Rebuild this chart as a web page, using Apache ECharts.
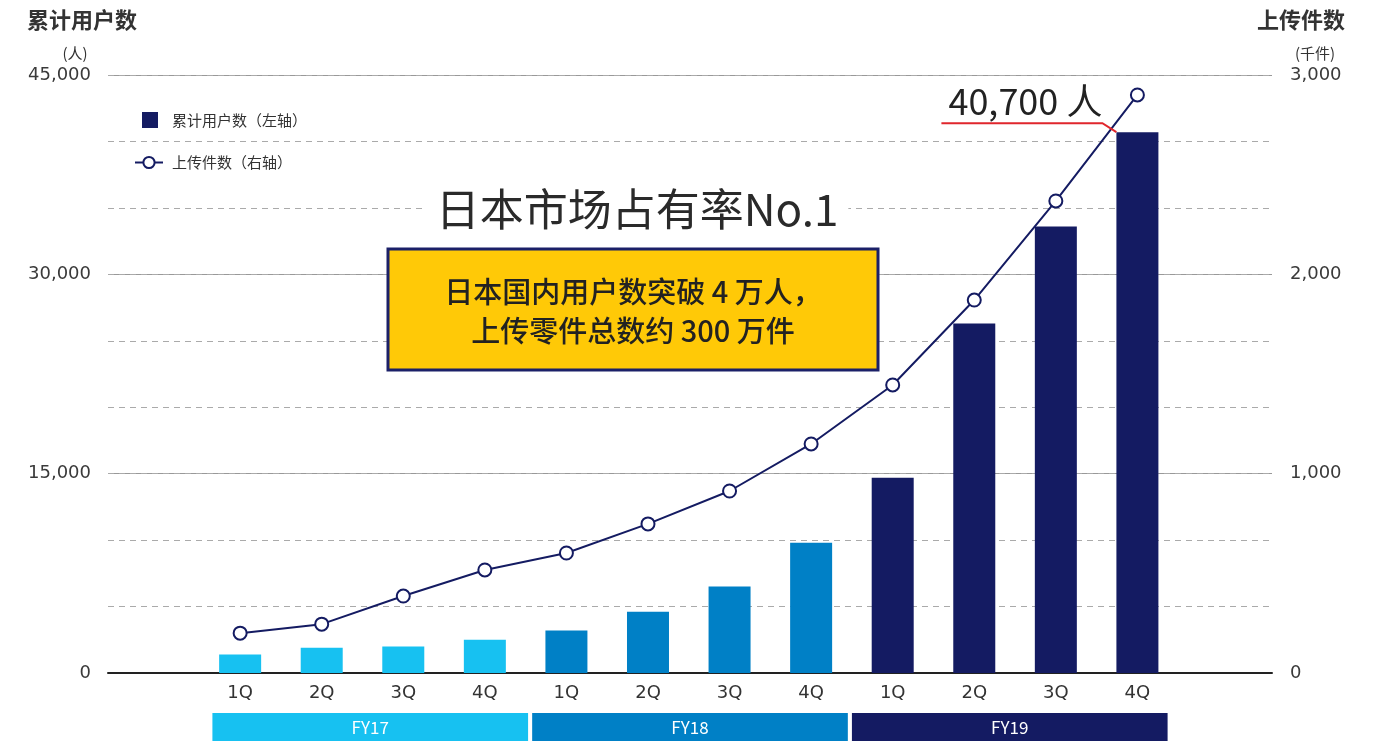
<!DOCTYPE html>
<html>
<head>
<meta charset="utf-8">
<script src="https://cdn.jsdelivr.net/npm/echarts@6/dist/echarts.min.js"></script>
<style>
  html, body { margin: 0; padding: 0; background: #fff; }
  #main { width: 1380px; height: 741px; }
</style>
</head>
<body>
<div id="main"></div>
<script>
// 季度 / 财年
const quarters = ['1Q', '2Q', '3Q', '4Q', '1Q', '2Q', '3Q', '4Q', '1Q', '2Q', '3Q', '4Q']
const fiscalYears = ['FY17', 'FY18', 'FY19']
// 累计用户数（人）
const users = [1400, 1900, 2000, 2500, 3200, 4600, 6500, 9800, 14700, 26300, 33600, 40700]
// 上传件数（千件）
const uploads = [200, 245, 386, 517, 602, 748, 913, 1149, 1445, 1871, 2368, 2900]

const fyColors = ['#17C1F1', '#0080C6', '#141B62']
const navy = '#141B62'
const font = '"Noto Sans CJK SC", "Noto Sans", sans-serif'
const numFont = '"DejaVu Sans", "Noto Sans CJK SC", sans-serif'

const chart = echarts.init(document.getElementById('main'))

const option = {
  animation: false,
  textStyle: { fontFamily: font },
  grid: { left: 108, right: 108, top: 75, bottom: 68 },
  legend: [
    {
      data: [{ name: '累计用户数（左轴）', icon: 'rect' }],
      left: 137,
      top: 107,
      itemWidth: 16,
      itemHeight: 16,
      textStyle: { fontSize: 15, color: '#333', padding: [0, 0, 0, 9] }
    },
    {
      data: ['上传件数（右轴）'],
      left: 129,
      top: 150,
      itemWidth: 28,
      itemHeight: 14,
      textStyle: { fontSize: 15, color: '#333', padding: [0, 0, 0, 4] }
    }
  ],
  xAxis: {
    type: 'value',
    min: -1.62,
    max: 12.65,
    axisLine: { lineStyle: { color: '#222', width: 2 } },
    axisTick: { show: false },
    splitLine: { show: false },
    axisLabel: {
      customValues: quarters.map((q, i) => i),
      formatter: v => quarters[v],
      color: '#333',
      fontFamily: numFont,
      fontSize: 18,
      margin: 11
    }
  },
  yAxis: [
    {
      type: 'value',
      min: 0,
      max: 45000,
      interval: 15000,
      position: 'left',
      axisLine: { show: false },
      axisTick: { show: false },
      axisLabel: {
        formatter: v => v.toLocaleString('en-US'),
        fontFamily: numFont,
        fontSize: 18,
        color: '#3a3a3a',
        margin: 17
      },
      splitLine: { lineStyle: { color: '#999', width: 1 } }
    },
    {
      type: 'value',
      min: 0,
      max: 3000,
      interval: 1000,
      position: 'right',
      axisLine: { show: false },
      axisTick: { show: false },
      axisLabel: {
        formatter: v => v.toLocaleString('en-US'),
        fontFamily: numFont,
        fontSize: 18,
        color: '#3a3a3a',
        margin: 18
      },
      splitLine: { show: false }
    },
    {
      // 虚线网格
      type: 'value',
      min: 0,
      max: 45000,
      interval: 5000,
      position: 'left',
      axisLine: { show: false },
      axisTick: { show: false },
      axisLabel: { show: false },
      splitLine: { lineStyle: { color: '#aaa', type: [6, 5], width: 1 } }
    }
  ],
  series: [
    {
      name: '累计用户数（左轴）',
      type: 'bar',
      yAxisIndex: 0,
      barWidth: 42,
      itemStyle: { color: navy },
      data: users.map((v, i) => ({
        value: [i, v],
        itemStyle: { color: fyColors[Math.floor(i / 4)] }
      })),
      z: 2
    },
    {
      name: '上传件数（右轴）',
      type: 'line',
      yAxisIndex: 1,
      symbol: 'circle',
      symbolSize: 13,
      showAllSymbol: true,
      lineStyle: { color: navy, width: 2 },
      itemStyle: { color: '#fff', borderColor: navy, borderWidth: 2 },
      data: uploads.map((v, i) => [i, v]),
      z: 5
    }
  ]
}

chart.setOption(option)

// 标注、财年色带
const graphic = []
const toPx = (x, y) => chart.convertToPixel({ xAxisIndex: 0, yAxisIndex: 0 }, [x, y])

const bandStart = -0.34
const bandUnit = 3.92
fiscalYears.forEach((fy, g) => {
  const a = toPx(bandStart + g * bandUnit, 0)[0]
  const b = toPx(bandStart + (g + 1) * bandUnit - 0.05, 0)[0]
  graphic.push({
    type: 'rect',
    shape: { x: a, y: 713, width: b - a, height: 30 },
    style: { fill: fyColors[g] },
    z: 10
  })
  graphic.push({
    type: 'text',
    x: (a + b) / 2,
    y: 728,
    style: { text: fy, fill: '#fff', fontSize: 17, fontFamily: font, align: 'center', verticalAlign: 'middle' },
    z: 11
  })
})

// 40,700 人
const lastIdx = users.length - 1
const lastTop = toPx(lastIdx, users[lastIdx])
const barLeft = lastTop[0] - 21
graphic.push({
  type: 'polyline',
  shape: { points: [[barLeft - 175, lastTop[1] - 9], [barLeft - 14, lastTop[1] - 9], [barLeft, lastTop[1]]] },
  style: { stroke: '#E0262C', lineWidth: 2, fill: null },
  z: 12
})
graphic.push({
  type: 'text',
  x: barLeft - 168,
  y: lastTop[1] - 31,
  style: { text: users[lastIdx].toLocaleString('en-US') + ' 人', fill: '#222', fontSize: 36, fontFamily: font, align: 'left', verticalAlign: 'middle' },
  z: 12
})

// 标题
graphic.push({
  type: 'text',
  x: 637,
  y: 209,
  style: {
    text: '日本市场占有率No.1',
    fill: '#2a2a2a',
    fontSize: 44,
    fontWeight: 400,
    fontFamily: font,
    align: 'center',
    verticalAlign: 'middle',
    backgroundColor: '#fff',
    padding: [0, 10]
  },
  z: 12
})
graphic.push({
  type: 'rect',
  shape: { x: 388, y: 249, width: 490, height: 121 },
  style: { fill: '#FFC907', stroke: '#1B2068', lineWidth: 3 },
  z: 12
})
graphic.push({
  type: 'text',
  x: 633,
  y: 311,
  style: {
    text: '日本国内用户数突破 4 万人，\n上传零件总数约 300 万件',
    fill: '#222',
    fontSize: 29,
    lineHeight: 39,
    fontWeight: 500,
    fontFamily: font,
    align: 'center',
    verticalAlign: 'middle'
  },
  z: 13
})

// 轴标题
graphic.push({
  type: 'text', x: 27, y: 20,
  style: { text: '累计用户数', fill: '#333', fontSize: 22, fontWeight: 'bold', fontFamily: font, align: 'left', verticalAlign: 'middle' }
})
graphic.push({
  type: 'text', x: 75, y: 53,
  style: { text: '(人)', fill: '#333', fontSize: 15, fontFamily: font, align: 'center', verticalAlign: 'middle' }
})
graphic.push({
  type: 'text', x: 1345, y: 20,
  style: { text: '上传件数', fill: '#333', fontSize: 22, fontWeight: 'bold', fontFamily: font, align: 'right', verticalAlign: 'middle' }
})
graphic.push({
  type: 'text', x: 1315, y: 53,
  style: { text: '(千件)', fill: '#333', fontSize: 15, fontFamily: font, align: 'center', verticalAlign: 'middle' }
})

chart.setOption({ graphic: graphic })
</script>
</body>
</html>
